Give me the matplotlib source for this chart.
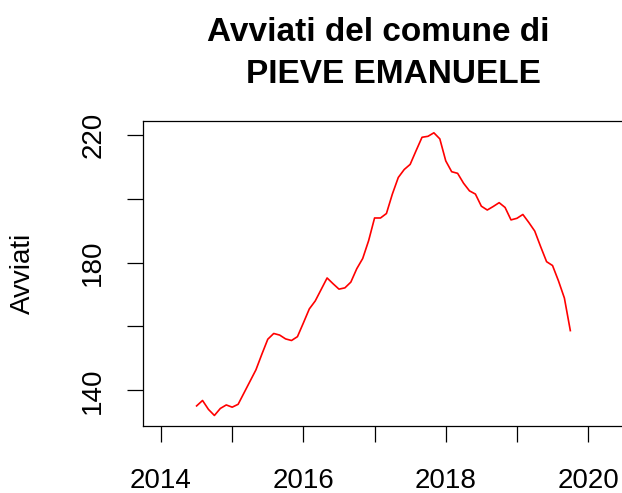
import numpy as np
import matplotlib
matplotlib.use("Agg")
import matplotlib.pyplot as plt

# monthly series starting July 2014
start_year = 2014
start_month = 7
avviati = [135.1, 136.8, 134.0, 132.1, 134.3, 135.4, 134.7, 135.6, 139.2, 142.8,
           146.4, 151.3, 156.0, 157.8, 157.3, 156.1, 155.6, 156.8, 161.1, 165.5,
           168.0, 171.6, 175.2, 173.4, 171.7, 172.1, 173.9, 178.1, 181.3, 186.9,
           194.0, 194.0, 195.4, 201.5, 206.7, 209.2, 210.8, 215.1, 219.3, 219.6,
           220.7, 218.8, 211.9, 208.5, 208.0, 204.9, 202.5, 201.5, 197.7, 196.5,
           197.6, 198.8, 197.3, 193.4, 193.9, 195.1, 192.6, 189.9, 185.0, 180.3,
           179.1, 174.3, 168.9, 158.7]
x_ticks = [2014, 2015, 2016, 2017, 2018, 2019, 2020]
x_labels = ["2014", "", "2016", "", "2018", "", "2020"]
y_ticks = [140, 160, 180, 200, 220]
y_labels = ["140", "", "180", "", "220"]

t = start_year + (start_month - 1) / 12 + np.arange(len(avviati)) / 12

plt.rcParams["font.family"] = ["Liberation Sans", "DejaVu Sans"]

W, H = 622, 493
fig = plt.figure(figsize=(W / 100, H / 100), dpi=100)
ax = fig.add_axes([143 / W, (H - 426) / H, (623 - 143) / W, (426 - 121) / H])
ax.plot(t, avviati, color="red", lw=1.2)
ax.set_xlim(2013.747, 2020.49)
ax.set_ylim(128.8, 224.4)

for s in ax.spines.values():
    s.set_linewidth(0.9)

ax.set_xticks(x_ticks)
ax.set_xticklabels(x_labels)
ax.set_yticks(y_ticks)
ax.set_yticklabels(y_labels, rotation=90, va="center")
ax.tick_params(axis="both", length=11.5, width=0.9, labelsize=20)
ax.tick_params(axis="x", pad=19)
ax.tick_params(axis="y", pad=15)

# title, two lines
fig.text(378.5 / W, 1 - 41 / H, "Avviati del comune di", ha="center",
         va="baseline", fontsize=24, fontweight="bold")
fig.text(393.2 / W, 1 - 83.3 / H, "PIEVE EMANUELE", ha="center",
         va="baseline", fontsize=24, fontweight="bold")
fig.text(22.5 / W, 1 - 273 / H, "Avviati", rotation=90, ha="center",
         va="center", fontsize=20)

fig.savefig("out.png", dpi=100)
